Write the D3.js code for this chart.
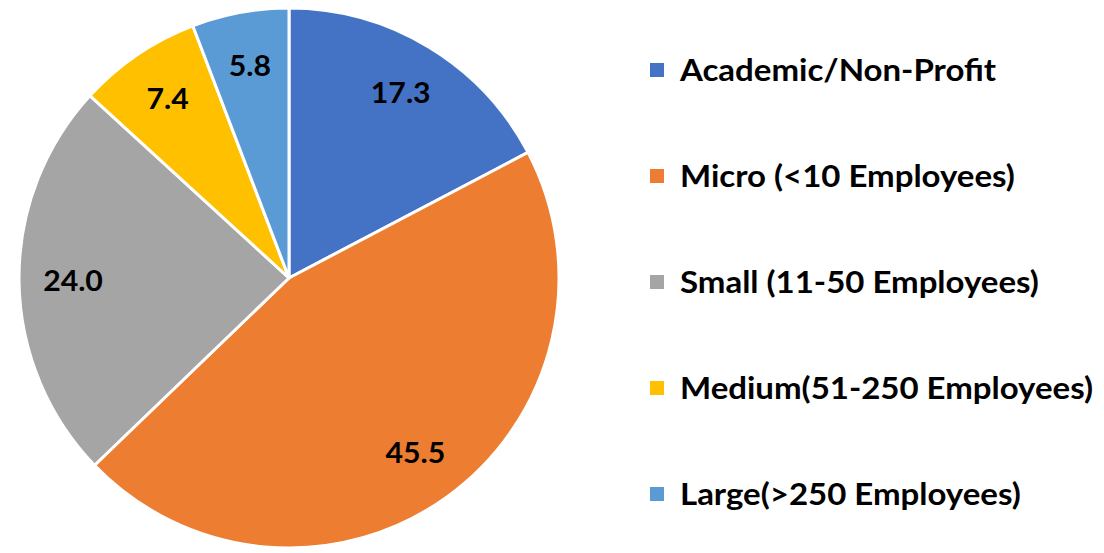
<!DOCTYPE html>
<html>
<head>
<meta charset="utf-8">
<script src="https://cdn.jsdelivr.net/npm/d3@7"></script>
<style>
  body { margin: 0; background: #fff; }
  svg { display: block; }
</style>
</head>
<body>
<div id="chart"></div>
<script>
var categories = ["Academic/Non-Profit", "Micro (<10 Employees)", "Small (11-50 Employees)", "Medium(51-250 Employees)", "Large(>250 Employees)"];
var values = [17.3, 45.5, 24.0, 7.4, 5.8];
var colors = ["#4472C4", "#ED7D31", "#A5A5A5", "#FFC000", "#5B9BD5"];

var width = 1104, height = 553;
var cx = 289, cy = 278, radius = 270;

var svg = d3.select("#chart").append("svg")
  .attr("width", width)
  .attr("height", height);

var data = [];
for (var i = 0; i < categories.length; i++) {
  data.push({ name: categories[i], value: values[i], color: colors[i] });
}

var pie = d3.pie()
  .sort(null)
  .value(function(d) { return d.value; });

var arc = d3.arc().innerRadius(0).outerRadius(radius);
var labelArc = d3.arc().innerRadius(radius * 0.8).outerRadius(radius * 0.8);

var g = svg.append("g")
  .attr("transform", "translate(" + cx + "," + cy + ")");

var slices = g.selectAll(".slice")
  .data(pie(data))
  .enter().append("g")
  .attr("class", "slice");

slices.append("path")
  .attr("d", arc)
  .attr("fill", function(d) { return d.data.color; })
  .attr("stroke", "#fff")
  .attr("stroke-width", 3)
  .attr("stroke-linejoin", "round");

slices.append("text")
  .attr("transform", function(d) { return "translate(" + labelArc.centroid(d) + ") scale(1.08,1)"; })
  .attr("text-anchor", "middle")
  .attr("dy", "0.36em")
  .attr("font-family", "Lato, sans-serif")
  .attr("font-weight", "bold")
  .attr("font-size", 28)
  .attr("fill", "#000")
  .text(function(d) { return d.data.value.toFixed(1); });

// legend
var legendY = d3.scalePoint()
  .domain(categories)
  .range([70, 494]);

var legend = svg.append("g")
  .selectAll(".legend")
  .data(data)
  .enter().append("g")
  .attr("class", "legend")
  .attr("transform", function(d) { return "translate(650," + legendY(d.name) + ")"; });

legend.append("rect")
  .attr("x", 0)
  .attr("y", -7)
  .attr("width", 14)
  .attr("height", 14)
  .attr("fill", function(d) { return d.color; });

legend.append("text")
  .attr("transform", "translate(30,0) scale(1.1,1)")
  .attr("dy", "0.36em")
  .attr("font-family", "Lato, sans-serif")
  .attr("font-weight", "bold")
  .attr("font-size", 30)
  .attr("fill", "#000")
  .text(function(d) { return d.name; });
</script>
</body>
</html>
